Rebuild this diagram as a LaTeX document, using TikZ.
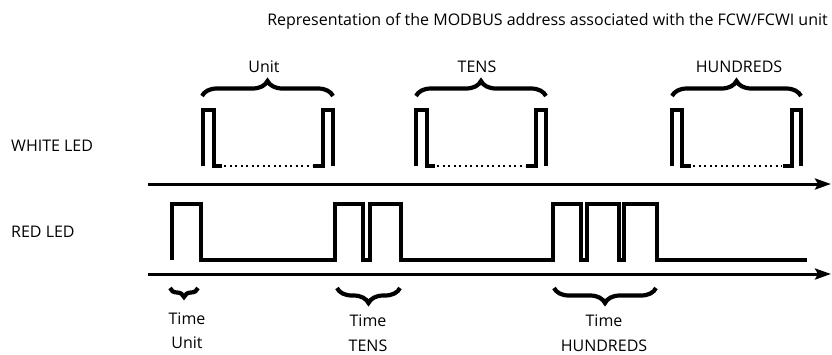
\documentclass[tikz,border=0pt]{standalone}
\usepackage{fontspec}
\setmainfont{Open Sans}
\usetikzlibrary{arrows.meta,decorations.pathreplacing}
\begin{document}
\begin{tikzpicture}[x=1pt,y=-1pt,
  lbl/.style={font=\fontsize{16}{18}\selectfont, inner sep=0pt},
  pulse/.style={line width=4.2pt},
  dots/.style={line width=2.2pt, dash pattern=on 2.2pt off 3.3pt},
  axis/.style={line width=3pt, -{Stealth[length=16pt,width=11pt,inset=3pt]}},
  bracetop/.style={decorate, decoration={brace,amplitude=15pt}, line width=4.2pt},
  bracebot/.style={decorate, decoration={brace,amplitude=#1}, line width=4.2pt},
]
\useasboundingbox (0,0) rectangle (832,354);

% heading
\node[lbl, anchor=base east] (title) at (828,25)
  {Representation of the MODBUS address associated with the FCW/FCWI unit};

% row names
\node[lbl, anchor=base west] (white) at (11,151) {WHITE LED};
\node[lbl, anchor=base west] (red) at (11,237) {RED LED};

% time axes
\coordinate (a1s) at (148,184);
\coordinate (a1e) at (831,184);
\coordinate (a2s) at (148,274);
\coordinate (a2e) at (831,274);
\draw[axis] (a1s) -- (a1e);
\draw[axis] (a2s) -- (a2e);

% white LED: first and last pulse of each digit
\draw[pulse] (203,166) -- (203,110) -- (214,110) -- (214,166) -- (222,166);
\draw[dots] (224,166) -- (312,166);
\draw[pulse] (313,166) -- (323,166) -- (323,110) -- (333,110) -- (333,166);

\draw[pulse] (416,166) -- (416,110) -- (427,110) -- (427,166) -- (435,166);
\draw[dots] (437,166) -- (525,166);
\draw[pulse] (526,166) -- (536,166) -- (536,110) -- (546,110) -- (546,166);

\draw[pulse] (672,166) -- (672,110) -- (682,110) -- (682,166) -- (691,166);
\draw[dots] (693,166) -- (782,166);
\draw[pulse] (783,166) -- (792,166) -- (792,110) -- (801,110) -- (801,166);

% braces over the white pulses
\draw[bracetop] (202,96) -- (333,96);
\draw[bracetop] (416,96) -- (546,96);
\draw[bracetop] (672,96) -- (801,96);
\node[lbl, anchor=base] (lu) at (264,72) {Unit};
\node[lbl, anchor=base] (lt) at (477,72) {TENS};
\node[lbl, anchor=base] (lh) at (739,72) {HUNDREDS};

% red LED: 1, 2 and 3 pulses
\draw[pulse] (172,260) -- (172,204) -- (201,204) -- (201,260)
  -- (335,260) -- (335,204) -- (363,204) -- (363,260)
  -- (370,260) -- (370,204) -- (401,204) -- (401,260)
  -- (553,260) -- (553,204) -- (581,204) -- (581,260)
  -- (587,260) -- (587,204) -- (619,204) -- (619,260)
  -- (624,260) -- (624,204) -- (657,204) -- (657,260)
  -- (807,260);

% braces under the red pulses
\draw[bracebot=9pt] (198,288) -- (170,288);
\draw[bracebot=15pt] (400,288) -- (337,288);
\draw[bracebot=15pt] (656,288) -- (554,288);

\node[lbl, anchor=base] (tu1) at (187,324) {Time};
\node[lbl, anchor=base] (tu2) at (187,348) {Unit};
\node[lbl, anchor=base] (tt1) at (368,326) {Time};
\node[lbl, anchor=base] (tt2) at (368,351) {TENS};
\node[lbl, anchor=base] (th1) at (604,326) {Time};
\node[lbl, anchor=base] (th2) at (604,351) {HUNDREDS};
\end{tikzpicture}
\end{document}
